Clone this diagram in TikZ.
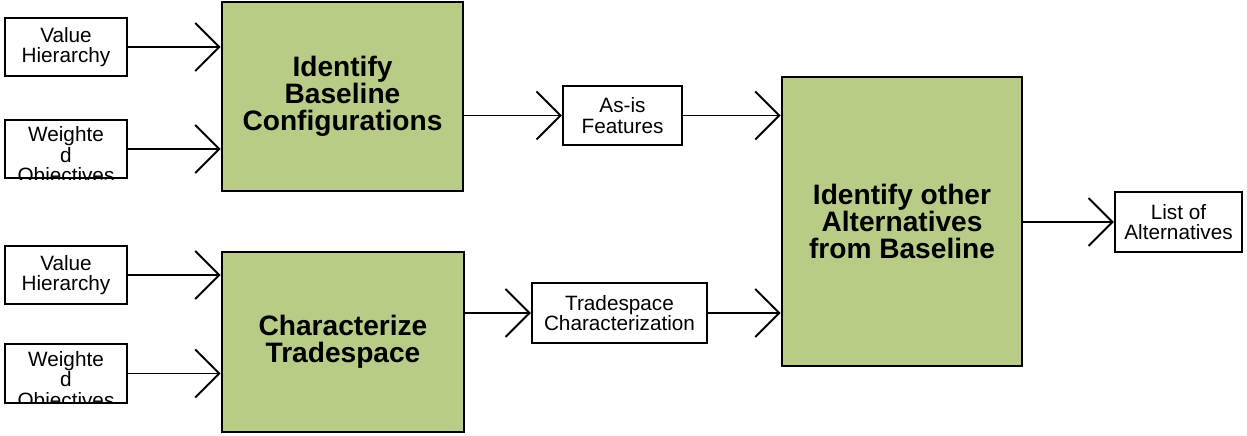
\documentclass[tikz,border=0pt]{standalone}
\usepackage{fontspec}
\setmainfont{Liberation Sans}
\usepackage{xcolor}
\definecolor{boxgreen}{RGB}{184,204,136}
\usetikzlibrary{arrows.meta,positioning,calc}

\tikzset{
  inbox/.style={draw=black, fill=white, line width=1.3pt, minimum width=2.44cm, minimum height=1.17cm, align=center, inner sep=1pt, font=\fontsize{11.8}{11.6}\selectfont},
  cliptext/.style={anchor=north, align=center, inner sep=0pt, yshift=-0.16cm, font=\fontsize{11.8}{11.6}\selectfont},
  procbox/.style={draw=black, fill=boxgreen, line width=1.6pt, align=center, inner sep=0pt, font=\fontsize{16}{15.2}\selectfont\bfseries},
  flow/.style={-{Straight Barb[length=4.8mm,width=9.6mm]}, line width=1.1pt},
}

\begin{document}
\begin{tikzpicture}
  \fill[white] (0,0) rectangle (24.94,8.72);
  \useasboundingbox (0,0) rectangle (24.94,8.72);

  %% --- INPUTS (left column) ---
  \node[inbox] (vh1) at (1.32,7.78) {Value\\Hierarchy};
  \node[inbox] (wo1) at (1.32,5.74) {};
  \node[inbox] (vh2) at (1.32,3.22) {Value\\Hierarchy};
  \node[inbox] (wo2) at (1.32,1.25) {};

  %% text of the weighted boxes runs past the bottom edge
  \begin{scope}
    \clip (wo1.south west) rectangle (wo1.north east);
    \node[cliptext] (wo1txt) at (wo1.north) {Weighte\\d\\Objectives};
  \end{scope}
  \begin{scope}
    \clip (wo2.south west) rectangle (wo2.north east);
    \node[cliptext] (wo2txt) at (wo2.north) {Weighte\\d\\Objectives};
  \end{scope}

  %% --- PROCESSES ---
  \node[procbox, minimum width=4.82cm, minimum height=3.78cm] (baseline) at (6.85,6.79) {Identify\\Baseline\\Configurations};
  \node[procbox, minimum width=4.84cm, minimum height=3.60cm] (charts)   at (6.86,1.88) {Characterize\\Tradespace};
  \node[procbox, minimum width=4.80cm, minimum height=5.78cm] (others)   at (18.04,4.29) {Identify other\\Alternatives\\from Baseline};

  %% --- INTERMEDIATE / OUTPUT ---
  \node[inbox, minimum width=2.38cm, minimum height=1.18cm] (asis)  at (12.45,6.41) {As-is\\Features};
  \node[inbox, minimum width=3.50cm, minimum height=1.20cm] (tschar) at (12.39,2.46) {Tradespace\\Characterization};
  \node[inbox, minimum width=2.54cm, minimum height=1.20cm] (altlist) at (23.57,4.28) {List of\\Alternatives};

  %% --- FLOWS ---
  \draw[flow] (vh1.east) -- (vh1.east -| baseline.west);
  \draw[flow] (wo1.east) -- (wo1.east -| baseline.west);
  \draw[flow] (vh2.east) -- (vh2.east -| charts.west);
  \draw[flow] (wo2.east) -- (wo2.east -| charts.west);

  \draw[flow] (asis.west -| baseline.east) -- (asis.west);
  \draw[flow] (asis.east) -- (asis.east -| others.west);
  \draw[flow] (tschar.west -| charts.east) -- (tschar.west);
  \draw[flow] (tschar.east) -- (tschar.east -| others.west);

  \draw[flow] (altlist.west -| others.east) -- (altlist.west);
\end{tikzpicture}
\end{document}
